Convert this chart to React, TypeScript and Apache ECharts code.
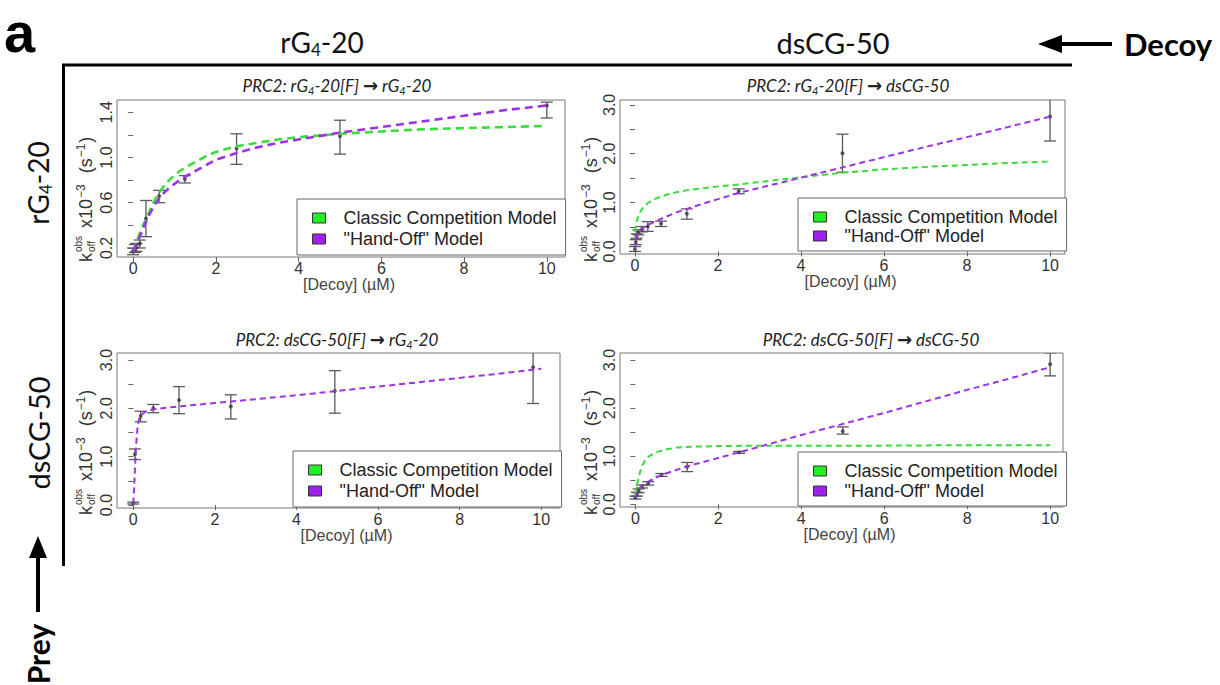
import React, { useEffect, useRef } from "react";
import * as echarts from "echarts";

// ---------- DATA ----------
const X_TICKS = [0, 2, 4, 6, 8, 10];
const CLASSIC = "Classic Competition Model";
const HANDOFF = '"Hand-Off" Model';

// Panel A: PRC2: rG4-20[F] -> rG4-20
const A_X = [0, 0.04, 0.08, 0.16, 0.31, 0.63, 1.25, 2.5, 5, 10];
const A_Y = [0.17, 0.19, 0.21, 0.24, 0.46, 0.66, 0.81, 1.08, 1.19, 1.46];
const A_LO = [0.14, 0.16, 0.17, 0.2, 0.3, 0.6, 0.775, 0.94, 1.03, 1.35];
const A_HI = [0.2, 0.23, 0.24, 0.27, 0.62, 0.71, 0.84, 1.21, 1.33, 1.49];
const A_CLASSIC_X = [0, 0.05, 0.1, 0.16, 0.25, 0.31, 0.4, 0.5, 0.63, 0.75, 0.9, 1.05, 1.25, 1.5, 1.75, 2, 2.5, 3, 3.5, 4, 5, 6, 7, 8, 9, 10];
const A_CLASSIC_Y = [0.17, 0.22, 0.27, 0.33, 0.41, 0.45, 0.53, 0.61, 0.69, 0.75, 0.81, 0.86, 0.91, 0.96, 1.01, 1.05, 1.1, 1.13, 1.16, 1.18, 1.21, 1.23, 1.25, 1.26, 1.27, 1.28];
const A_HAND_X = [0, 0.05, 0.1, 0.16, 0.25, 0.31, 0.4, 0.5, 0.63, 0.75, 0.9, 1.05, 1.25, 1.5, 1.75, 2, 2.5, 3, 3.5, 4, 5, 6, 7, 8, 9, 10];
const A_HAND_Y = [0.17, 0.21, 0.25, 0.3, 0.38, 0.43, 0.5, 0.57, 0.64, 0.69, 0.74, 0.78, 0.83, 0.88, 0.93, 0.98, 1.04, 1.09, 1.13, 1.16, 1.22, 1.27, 1.32, 1.37, 1.42, 1.46];

// Panel B: PRC2: rG4-20[F] -> dsCG-50
const B_X = [0, 0.02, 0.04, 0.08, 0.16, 0.31, 0.63, 1.25, 2.5, 5, 10];
const B_Y = [0.05, 0.19, 0.31, 0.39, 0.45, 0.51, 0.57, 0.77, 1.23, 2.01, 2.76];
const B_LO = [0.0, 0.14, 0.27, 0.34, 0.4, 0.41, 0.51, 0.66, 1.18, 1.62, 2.26];
const B_HI = [0.1, 0.24, 0.36, 0.44, 0.51, 0.61, 0.62, 0.87, 1.28, 2.4, 3.26];
const B_CLASSIC_X = [0, 0.02, 0.05, 0.1, 0.15, 0.2, 0.3, 0.4, 0.5, 0.65, 0.8, 1, 1.25, 1.5, 2, 2.5, 3, 4, 5, 6, 7, 8, 9, 10];
const B_CLASSIC_Y = [0.4, 0.52, 0.64, 0.76, 0.84, 0.9, 0.98, 1.04, 1.08, 1.13, 1.17, 1.21, 1.25, 1.28, 1.33, 1.37, 1.42, 1.52, 1.61, 1.68, 1.73, 1.77, 1.81, 1.84];
const B_HAND_X = [0, 0.02, 0.05, 0.1, 0.2, 0.31, 0.5, 0.75, 1, 1.25, 1.5, 2, 2.5, 3, 4, 5, 6, 7, 8, 9, 10];
const B_HAND_Y = [0.05, 0.22, 0.34, 0.42, 0.48, 0.54, 0.62, 0.71, 0.8, 0.87, 0.94, 1.07, 1.2, 1.3, 1.51, 1.72, 1.93, 2.14, 2.34, 2.55, 2.76];

// Panel C: PRC2: dsCG-50[F] -> rG4-20
const C_X = [0, 0.04, 0.18, 0.49, 1.12, 2.39, 4.94, 9.8];
const C_Y = [0.04, 1.05, 1.84, 2.0, 2.17, 2.04, 2.36, 2.85];
const C_LO = [0.02, 0.94, 1.72, 1.91, 1.89, 1.78, 1.9, 2.1];
const C_HI = [0.06, 1.16, 1.94, 2.08, 2.45, 2.28, 2.78, 3.6];
const C_HAND_X = [0, 0.02, 0.04, 0.07, 0.1, 0.13, 0.16, 0.2, 0.3, 0.5, 1, 2, 3, 4, 5, 6, 7, 8, 9, 10];
const C_HAND_Y = [0.03, 0.35, 0.75, 1.25, 1.58, 1.74, 1.82, 1.87, 1.93, 1.98, 2.03, 2.11, 2.19, 2.27, 2.36, 2.45, 2.54, 2.63, 2.72, 2.82];

// Panel D: PRC2: dsCG-50[F] -> dsCG-50
const D_X = [0, 0.04, 0.08, 0.16, 0.31, 0.63, 1.25, 2.5, 5, 10];
const D_Y = [0.14, 0.21, 0.28, 0.37, 0.44, 0.61, 0.78, 1.08, 1.52, 2.91];
const D_LO = [0.11, 0.17, 0.24, 0.34, 0.4, 0.58, 0.68, 1.06, 1.46, 2.67];
const D_HI = [0.17, 0.25, 0.32, 0.4, 0.47, 0.64, 0.87, 1.1, 1.61, 3.15];
const D_CLASSIC_X = [0, 0.02, 0.05, 0.08, 0.12, 0.16, 0.2, 0.25, 0.33, 0.45, 0.6, 0.8, 1, 1.25, 1.5, 2, 3, 4, 6, 8, 10];
const D_CLASSIC_Y = [0.2, 0.3, 0.45, 0.56, 0.69, 0.79, 0.86, 0.93, 1.0, 1.06, 1.11, 1.15, 1.18, 1.19, 1.2, 1.21, 1.22, 1.22, 1.22, 1.23, 1.23];
const D_HAND_X = [0, 0.04, 0.08, 0.16, 0.31, 0.63, 1.25, 2.5, 3, 4, 5, 6, 7, 8, 9, 10];
const D_HAND_Y = [0.14, 0.24, 0.31, 0.38, 0.47, 0.61, 0.79, 1.08, 1.2, 1.44, 1.67, 1.9, 2.14, 2.38, 2.61, 2.85];

const Y_TICKS_A = [0.2, 0.4, 0.6, 0.8, 1.0, 1.2, 1.4];
const Y_LABELS_A = [0.2, 0.6, 1.0, 1.4];
const Y_TICKS_B = [0, 0.5, 1, 1.5, 2, 2.5, 3];
const Y_LABELS_B = [0, 1, 2, 3];

// ---------- STYLE / LAYOUT ----------
const GREEN = "#3bdc3b";
const PURPLE = "#9a34e6";
const GREEN_SQ = "#22ee22";
const PURPLE_SQ = "#a020f0";
const SANS = "Liberation Sans, Arial, sans-serif";
const HUM = "Lato, Open Sans, sans-serif";

const zip = (xs: number[], ys: number[]) => xs.map((x, i) => [x, ys[i]]);
const zip3 = (xs: number[], lo: number[], hi: number[]) => xs.map((x, i) => [x, lo[i], hi[i]]);

const PANELS = [
  {
    title: "PRC2: rG{s|4}-20[F] {a|→} rG{s|4}-20", tx: 337, ty: 85,
    grid: { left: 117, top: 100, width: 448, height: 157 },
    xMin: -0.39, xMax: 10.44, yMin: 0.12, yMax: 1.509,
    yTicks: Y_TICKS_A, yLabels: Y_LABELS_A,
    pts: zip(A_X, A_Y), err: zip3(A_X, A_LO, A_HI),
    classic: zip(A_CLASSIC_X, A_CLASSIC_Y), hand: zip(A_HAND_X, A_HAND_Y),
    lw: 2.6, dash: [8, 5],
    legend: { left: 297, top: 199, padding: [10, 9, 7, 15], gap: 3 },
    ylab: { x: 86, y: 262 },
  },
  {
    title: "PRC2: rG{s|4}-20[F] {a|→} dsCG-50", tx: 848, ty: 85,
    grid: { left: 620, top: 100, width: 445, height: 154 },
    xMin: -0.36, xMax: 10.36, yMin: -0.053, yMax: 3.1,
    yTicks: Y_TICKS_B, yLabels: Y_LABELS_B,
    pts: zip(B_X, B_Y), err: zip3(B_X, B_LO, B_HI),
    classic: zip(B_CLASSIC_X, B_CLASSIC_Y), hand: zip(B_HAND_X, B_HAND_Y),
    lw: 2, dash: [6, 4],
    legend: { left: 798, top: 198, padding: [10, 9, 6, 15], gap: 1 },
    ylab: { x: 591, y: 262 },
  },
  {
    title: "PRC2: dsCG-50[F] {a|→} rG{s|4}-20", tx: 337, ty: 339,
    grid: { left: 117, top: 353, width: 443, height: 155 },
    xMin: -0.4, xMax: 10.46, yMin: -0.062, yMax: 3.145,
    yTicks: Y_TICKS_B, yLabels: Y_LABELS_B,
    pts: zip(C_X, C_Y), err: zip3(C_X, C_LO, C_HI),
    classic: null, hand: zip(C_HAND_X, C_HAND_Y),
    lw: 2, dash: [6, 4],
    legend: { left: 293, top: 451, padding: [10, 9, 7, 15], gap: 3 },
    ylab: { x: 86, y: 515 },
  },
  {
    title: "PRC2: dsCG-50[F] {a|→} dsCG-50", tx: 871, ty: 339,
    grid: { left: 620, top: 353, width: 443, height: 154 },
    xMin: -0.37, xMax: 10.31, yMin: -0.056, yMax: 3.146,
    yTicks: Y_TICKS_B, yLabels: Y_LABELS_B,
    pts: zip(D_X, D_Y), err: zip3(D_X, D_LO, D_HI),
    classic: zip(D_CLASSIC_X, D_CLASSIC_Y), hand: zip(D_HAND_X, D_HAND_Y),
    lw: 2, dash: [6, 4],
    legend: { left: 798, top: 452, padding: [10, 9, 6, 15], gap: 2 },
    ylab: { x: 591, y: 515 },
  },
];

function yLabelGroup(x: number, y: number) {
  return {
    type: "group",
    x,
    y,
    rotation: Math.PI / 2,
    children: [
      { type: "text", x: 0, y: 0, style: { text: "k", fontSize: 18, fontFamily: SANS, fill: "#333", align: "left", verticalAlign: "middle" } },
      { type: "text", x: 10, y: -8, style: { text: "obs", fontSize: 10, fontFamily: SANS, fill: "#333", align: "left", verticalAlign: "middle" } },
      { type: "text", x: 10, y: 5, style: { text: "off", fontSize: 10, fontFamily: SANS, fill: "#333", align: "left", verticalAlign: "middle" } },
      {
        type: "text",
        x: 34,
        y: 0,
        style: {
          text: "x10{p|−3}  (s{p|−1})",
          fontSize: 18,
          fontFamily: SANS,
          fill: "#333",
          align: "left",
          verticalAlign: "middle",
          lineHeight: 23,
          rich: {
            p: { fontSize: 12, fontFamily: SANS, fill: "#333", lineHeight: 12, verticalAlign: "top", padding: [0, 1, 0, 1] },
          },
        },
      },
    ],
  };
}

function buildOption() {
  const grid: any[] = [];
  const xAxis: any[] = [];
  const yAxis: any[] = [];
  const series: any[] = [];
  const legend: any[] = [];
  const graphic: any[] = [];

  PANELS.forEach((p, i) => {
    grid.push({ ...p.grid, show: true, borderColor: "#777", borderWidth: 1, backgroundColor: "transparent", containLabel: false });
    xAxis.push({
      type: "value",
      gridIndex: i,
      min: p.xMin,
      max: p.xMax,
      axisLine: { show: false },
      splitLine: { show: false },
      axisTick: { show: true, customValues: X_TICKS, length: 5, lineStyle: { color: "#666" } },
      axisLabel: { customValues: X_TICKS, fontSize: 16, color: "#333", fontFamily: SANS, margin: 3 },
      name: "[Decoy] (µM)",
      nameLocation: "middle",
      nameGap: 15,
      nameTextStyle: { fontSize: 16, color: "#444", fontFamily: SANS, verticalAlign: "top", padding: [0, 0, 0, 16] },
    });
    yAxis.push({
      type: "value",
      gridIndex: i,
      min: p.yMin,
      max: p.yMax,
      axisLine: { show: false },
      splitLine: { show: false },
      axisTick: { show: true, customValues: p.yTicks, length: 5, lineStyle: { color: "#666" } },
      axisLabel: {
        customValues: p.yLabels,
        rotate: 90,
        fontSize: 16,
        color: "#333",
        fontFamily: SANS,
        margin: 3,
        formatter: (v: number) => v.toFixed(1),
      },
    });
    series.push({
      type: "custom",
      xAxisIndex: i,
      yAxisIndex: i,
      clip: true,
      silent: true,
      data: p.err,
      encode: { x: 0, y: [1, 2] },
      z: 3,
      renderItem: (_params: any, api: any) => {
        const x = api.value(0);
        const lo = api.coord([x, api.value(1)]);
        const hi = api.coord([x, api.value(2)]);
        const w = 6;
        const style = { stroke: "#5a5a5a", lineWidth: 1.3 };
        return {
          type: "group",
          children: [
            { type: "line", shape: { x1: lo[0], y1: lo[1], x2: hi[0], y2: hi[1] }, style },
            { type: "line", shape: { x1: lo[0] - w, y1: lo[1], x2: lo[0] + w, y2: lo[1] }, style },
            { type: "line", shape: { x1: hi[0] - w, y1: hi[1], x2: hi[0] + w, y2: hi[1] }, style },
          ],
        };
      },
    });
    series.push({
      type: "scatter",
      xAxisIndex: i,
      yAxisIndex: i,
      data: p.pts,
      symbolSize: 4,
      itemStyle: { color: "#3a3a3a" },
      silent: true,
      z: 4,
    });
    if (p.classic) {
      series.push({
        type: "line",
        name: CLASSIC,
        xAxisIndex: i,
        yAxisIndex: i,
        data: p.classic,
        showSymbol: false,
        smooth: false,
        lineStyle: { color: GREEN, width: p.lw, type: p.dash },
        itemStyle: { color: GREEN },
        z: 5,
      });
    }
    series.push({
      type: "line",
      name: HANDOFF,
      xAxisIndex: i,
      yAxisIndex: i,
      data: p.hand,
      showSymbol: false,
      smooth: false,
      lineStyle: { color: PURPLE, width: p.lw, type: p.dash },
      itemStyle: { color: PURPLE },
      z: 6,
    });
    legend.push({
      show: true,
      orient: "vertical",
      left: p.legend.left,
      top: p.legend.top,
      padding: p.legend.padding,
      itemGap: p.legend.gap,
      itemWidth: 13,
      itemHeight: 10,
      selectedMode: false,
      backgroundColor: "#fff",
      borderColor: "#666",
      borderWidth: 1,
      borderRadius: 0,
      textStyle: { fontSize: 18, color: "#222", fontFamily: SANS, padding: [0, 0, 0, 13] },
      data: [
        { name: CLASSIC, icon: "rect", itemStyle: { color: GREEN_SQ, borderColor: "#333", borderWidth: 1 } },
        { name: HANDOFF, icon: "rect", itemStyle: { color: PURPLE_SQ, borderColor: "#333", borderWidth: 1 } },
      ],
      z: 2,
    });
    graphic.push({
      type: "text",
      x: p.tx,
      y: p.ty,
      style: {
        text: p.title,
        fontSize: 17,
        fontStyle: "italic",
        fontFamily: HUM,
        fill: "#222",
        align: "center",
        verticalAlign: "middle",
        lineHeight: 21,
        rich: {
          s: { fontSize: 11, fontStyle: "italic", fontFamily: HUM, fill: "#222", lineHeight: 11, verticalAlign: "bottom" },
          a: { fontSize: 18, fontWeight: "bold", fontFamily: "DejaVu Sans", fill: "#222", lineHeight: 21 },
        },
      },
    });
    graphic.push(yLabelGroup(p.ylab.x, p.ylab.y));
  });

  // outer frame annotations
  graphic.push(
    { type: "text", x: 4, y: 32, style: { text: "a", fontSize: 56, lineHeight: 56, fontWeight: "bold", fontFamily: SANS, fill: "#000", align: "left", verticalAlign: "middle" } },
    {
      type: "text", x: 322, y: 42,
      style: {
        text: "rG{s|4}-20", fontSize: 28, fontFamily: HUM, fill: "#111", align: "center", verticalAlign: "middle", lineHeight: 32,
        rich: { s: { fontSize: 17, fontFamily: HUM, fill: "#111", lineHeight: 16, verticalAlign: "bottom" } },
      },
    },
    { type: "text", x: 833, y: 42, style: { text: "dsCG-50", fontSize: 29, fontFamily: HUM, fill: "#111", align: "center", verticalAlign: "middle" } },
    { type: "text", x: 1124, y: 44, style: { text: "Decoy", fontSize: 31, fontWeight: "bold", fontFamily: HUM, fill: "#000", align: "left", verticalAlign: "middle" } },
    { type: "line", shape: { x1: 1058, y1: 44, x2: 1112, y2: 44 }, style: { stroke: "#000", lineWidth: 4 } },
    { type: "polygon", shape: { points: [[1038, 44], [1062, 35], [1062, 53]] }, style: { fill: "#000" } },
    { type: "line", shape: { x1: 62, y1: 65, x2: 1072, y2: 65 }, style: { stroke: "#000", lineWidth: 3 } },
    { type: "line", shape: { x1: 63.5, y1: 64, x2: 63.5, y2: 566 }, style: { stroke: "#000", lineWidth: 3 } },
    {
      type: "text", x: 38, y: 183, rotation: Math.PI / 2,
      style: {
        text: "rG{s|4}-20", fontSize: 28, fontFamily: HUM, fill: "#111", align: "center", verticalAlign: "middle", lineHeight: 32,
        rich: { s: { fontSize: 17, fontFamily: HUM, fill: "#111", lineHeight: 16, verticalAlign: "bottom" } },
      },
    },
    { type: "text", x: 38, y: 433, rotation: Math.PI / 2, style: { text: "dsCG-50", fontSize: 29, fontFamily: HUM, fill: "#111", align: "center", verticalAlign: "middle" } },
    { type: "text", x: 38, y: 654, rotation: Math.PI / 2, style: { text: "Prey", fontSize: 30, fontWeight: "bold", fontFamily: HUM, fill: "#000", align: "center", verticalAlign: "middle" } },
    { type: "line", shape: { x1: 38, y1: 556, x2: 38, y2: 612 }, style: { stroke: "#000", lineWidth: 4 } },
    { type: "polygon", shape: { points: [[38, 536], [29, 558], [47, 558]] }, style: { fill: "#000" } }
  );

  return {
    animation: false,
    backgroundColor: "#fff",
    grid,
    xAxis,
    yAxis,
    series,
    legend,
    graphic,
  };
}

export default function App() {
  const ref = useRef<HTMLDivElement>(null);
  useEffect(() => {
    const chart = echarts.init(ref.current!, null, { renderer: "svg" });
    chart.setOption(buildOption() as any);
    return () => chart.dispose();
  }, []);
  return (
    <div
      ref={ref}
      style={{ position: "absolute", left: 0, top: 0, width: 1220, height: 685, background: "#fff" }}
    />
  );
}
